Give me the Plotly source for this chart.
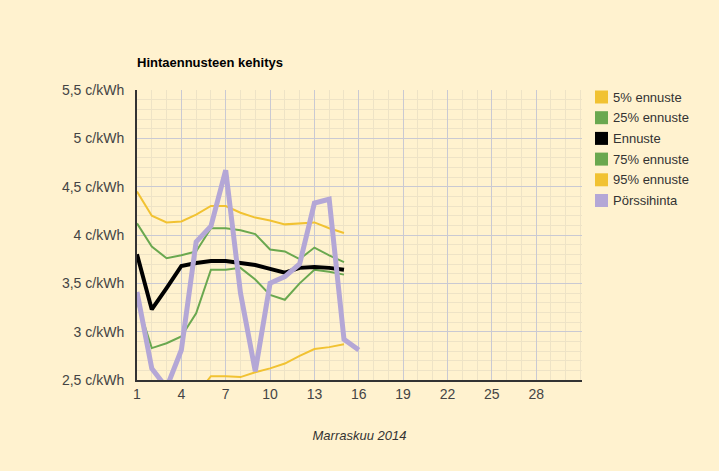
import plotly.graph_objects as go

# Päivät (marraskuu 2014)
days = list(range(1, 17))

p5 = [2.05, 2.10, 2.15, 2.20, 2.34, 2.54, 2.54, 2.53, 2.58, 2.62, 2.67, 2.75, 2.82, 2.84, 2.87]
p25 = [3.31, 2.83, 2.88, 2.95, 3.19, 3.64, 3.64, 3.66, 3.54, 3.38, 3.33, 3.50, 3.64, 3.62, 3.59]
ennuste = [3.80, 3.23, 3.45, 3.68, 3.71, 3.73, 3.73, 3.71, 3.69, 3.65, 3.61, 3.66, 3.67, 3.66, 3.64]
p75 = [4.12, 3.88, 3.76, 3.79, 3.83, 4.07, 4.07, 4.05, 4.01, 3.85, 3.83, 3.75, 3.87, 3.79, 3.72]
p95 = [4.45, 4.20, 4.13, 4.14, 4.21, 4.30, 4.30, 4.23, 4.18, 4.15, 4.11, 4.12, 4.13, 4.07, 4.02]
porssi = [3.41, 2.62, 2.42, 2.81, 3.93, 4.09, 4.67, 3.40, 2.59, 3.50, 3.57, 3.70, 4.33, 4.37, 2.92, 2.81]

ytick_vals = [2.5, 3, 3.5, 4, 4.5, 5, 5.5]
ytick_text = ["2,5 c/kWh", "3 c/kWh", "3,5 c/kWh", "4 c/kWh", "4,5 c/kWh", "5 c/kWh", "5,5 c/kWh"]

yellow = "#F1C232"
green = "#6AA84F"
purple = "#B4A7D6"
bg = "#FFF2CF"

series = [
    ("5% ennuste", p5, yellow, 2),
    ("25% ennuste", p25, green, 2),
    ("Ennuste", ennuste, "black", 4),
    ("75% ennuste", p75, green, 2),
    ("95% ennuste", p95, yellow, 2),
    ("Pörssihinta", porssi, purple, 5),
]

fig = go.Figure()
for name, vals, col, w in series:
    fig.add_trace(go.Scatter(x=days[:len(vals)], y=vals, mode="lines", name=name,
                             line=dict(color=col, width=w), hoverinfo="x+y"))

# page body has an 8px margin, so the figure is a bit smaller than the window
W, H = 711, 463
L, R, T, B = 129, 137, 82, 91
pw, ph = W - L - R, H - T - B

def px(x):  # figure pixel -> paper x
    return (x - L) / pw

def py(y):  # figure pixel -> paper y
    return (H - B - y) / ph

# hand-made legend with square swatches
for i, (name, vals, col, w) in enumerate(series):
    cy = 89 + i * 20.7
    fig.add_shape(type="rect", xref="paper", yref="paper",
                  x0=px(587), x1=px(600), y0=py(cy - 6.5), y1=py(cy + 6.5),
                  fillcolor=col, line=dict(width=0))
    fig.add_annotation(text=name, xref="paper", yref="paper", x=px(603), y=py(cy),
                       xanchor="left", yanchor="middle", showarrow=False,
                       font=dict(size=13, color="#333333"))

fig.update_layout(
    width=W, height=H,
    paper_bgcolor=bg, plot_bgcolor=bg,
    margin=dict(l=L, r=R, t=T, b=B),
    font=dict(family="Liberation Sans, Arial", size=12, color="#444444"),
    title=dict(text="<b>Hintaennusteen kehitys</b>", x=L / W, xanchor="left",
               y=1 - 54 / H, yanchor="middle", font=dict(size=13, color="black")),
    showlegend=False,
    xaxis=dict(range=[1, 31.1], tickvals=list(range(1, 29, 3)), showgrid=True,
               gridcolor="#C9C9D3", gridwidth=1,
               minor=dict(dtick=1, tick0=1, showgrid=True, gridcolor="#EEE3C6"),
               showline=True, linecolor="#333333", linewidth=2, ticks="", zeroline=False,
               tickfont=dict(size=14, color="#444444"),
               title=dict(text="<i>Marraskuu 2014</i>", standoff=30,
                          font=dict(size=13, color="#333333"))),
    yaxis=dict(range=[2.5, 5.5], tickvals=ytick_vals, ticktext=ytick_text, showgrid=True,
               gridcolor="#C9C9D3", gridwidth=1,
               minor=dict(dtick=0.1, tick0=2.5, showgrid=True, gridcolor="#EEE3C6"),
               showline=True, linecolor="#333333", linewidth=2, ticks="", zeroline=False,
               tickfont=dict(size=14, color="#444444"), ticklabelstandoff=8),
)

# make the page around the figure the same colour
fig.write_html("out.html", post_script="document.body.style.background='%s';" % bg)
